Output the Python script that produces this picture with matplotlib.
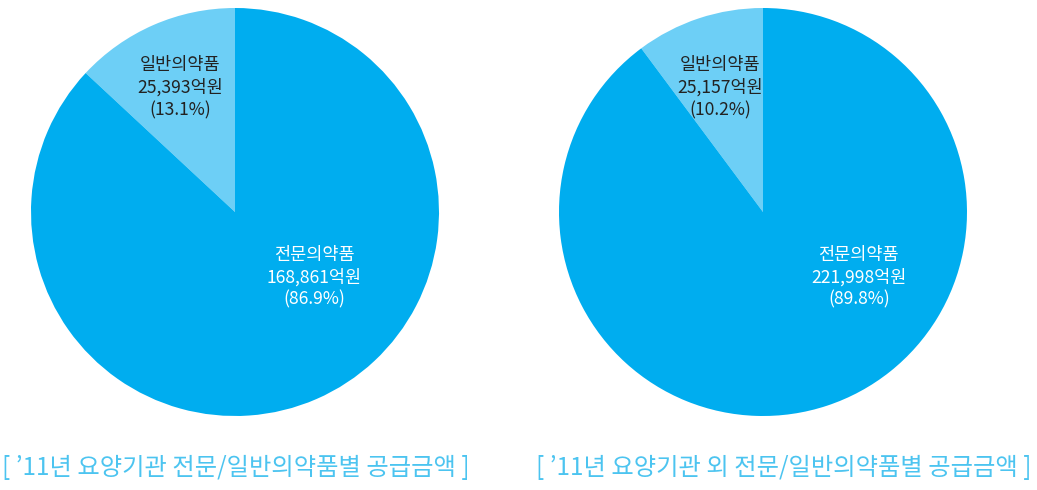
import matplotlib
matplotlib.use("Agg")
import matplotlib.pyplot as plt

plt.rcParams['font.family'] = ['Noto Sans CJK KR', 'DejaVu Sans']

categories = ['일반의약품', '전문의약품']
left_values = [25393, 168861]
left_pcts = [13.1, 86.9]
right_values = [25157, 221998]
right_pcts = [10.2, 89.8]
titles = ["[ \u201911년 요양기관 전문/일반의약품별 공급금액 ]",
          "[ \u201911년 요양기관 외 전문/일반의약품별 공급금액 ]"]

colors = ['#6DCFF6', '#00ADEF']
text_colors = ['#222222', 'white']
title_color = '#4CC4F0'

W, H = 1037, 490
fig = plt.figure(figsize=(W / 100, H / 100), dpi=100)

R = 204
def pie_axes(cx, cy):
    return fig.add_axes([(cx - R) / W, (H - cy - R) / H, 2 * R / W, 2 * R / H])

specs = [
    (235, 212, left_values, left_pcts, [(-0.27, 0.61), (0.39, -0.32)], 236),
    (763, 212, right_values, right_pcts, [(-0.21, 0.61), (0.47, -0.32)], 784),
]

for (cx, cy, vals, pcts, pos, tx), title in zip(specs, titles):
    ax = pie_axes(cx, cy)
    ax.pie(vals, colors=colors, startangle=90, counterclock=True,
           wedgeprops=dict(linewidth=0))
    ax.set_xlim(-1, 1)
    ax.set_ylim(-1, 1)
    ax.set_aspect('equal')
    for cat, v, p, (x, y), tc in zip(categories, vals, pcts, pos, text_colors):
        ax.text(x, y, f"{cat}\n{v:,}억원\n({p}%)", ha='center', va='center',
                fontsize=12.6, color=tc, linespacing=1.3)
    fig.text(tx / W, (H - 468) / H, title,
             ha='center', va='center', fontsize=17.5, color=title_color)

fig.savefig('out.png', dpi=100)
